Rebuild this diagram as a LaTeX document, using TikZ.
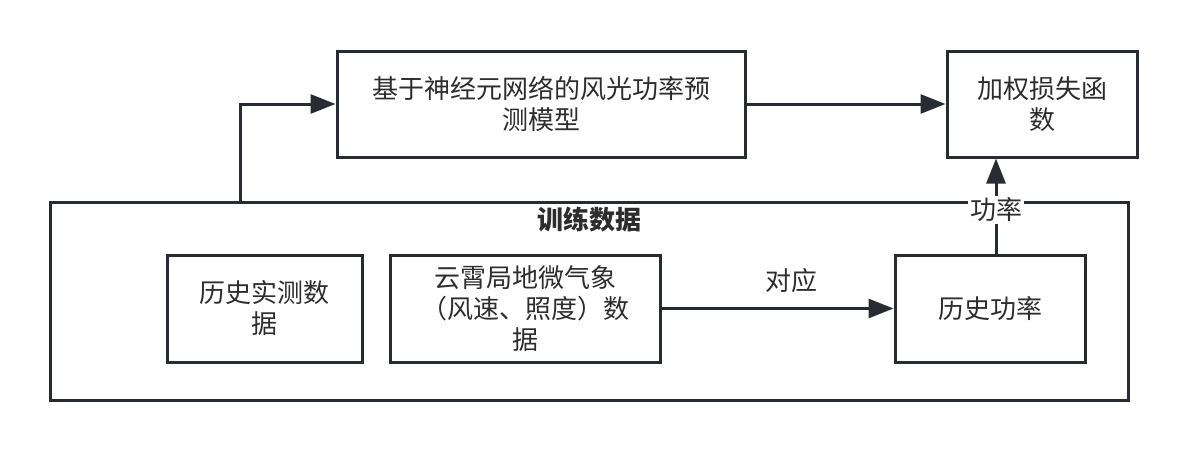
\documentclass[tikz,border=0pt]{standalone}
\usepackage{fontspec}
\setmainfont{Noto Sans CJK SC}
\usetikzlibrary{arrows.meta,calc}
\definecolor{boxline}{RGB}{40,44,50}
\definecolor{labeltext}{RGB}{45,45,45}
\tikzset{box/.style={draw=boxline,line width=1.5pt,align=center,inner sep=0pt,text=labeltext},
 flow/.style={-{Triangle[length=12.5pt,width=9.5pt]},draw=boxline,line width=1.5pt},
 every node/.style={font=\fontsize{13}{15.5}\selectfont}}

\begin{document}
\begin{tikzpicture}[x=0.5pt,y=-0.5pt]
\useasboundingbox (0,0) rectangle (1188,450);
\node[box,minimum width=204pt,minimum height=53pt] (model) at (541,104) {基于神经元网络的风光功率预\\测模型};
\node[box,minimum width=95pt,minimum height=53pt] (loss) at (1042,104) {加权损失函\\数};
\node[box,minimum width=539pt,minimum height=99pt] (train) at (589,301) {};
\node[text=labeltext] (traintitle) at (589,220) {\bfseries 训练数据};
\node[box,minimum width=97.5pt,minimum height=53.5pt] (hist) at (264.5,308.5) {历史实测数\\据};
\node[box,minimum width=135pt,minimum height=53.5pt] (micro) at (525,308.5) {云霄局地微气象\\（风速、照度）数\\据};
\node[box,minimum width=95pt,minimum height=53.5pt] (power) at (990,308.5) {历史功率};
\coordinate (tap) at (240,202);
\draw[flow] (tap) |- (model.west);
\draw[flow] (model.east) -- (loss.west);
\draw[flow] (micro.east) -- (power.west) node[pos=.56,above=4pt,text=labeltext] (pair) {对应};
\draw[flow] ([xshift=3pt]power.north) -- ([xshift=3pt]power.north |- loss.south)
 node[pos=.46,fill=white,inner sep=1pt,text=labeltext] (powerlabel) {功率};
\end{tikzpicture}
\end{document}
